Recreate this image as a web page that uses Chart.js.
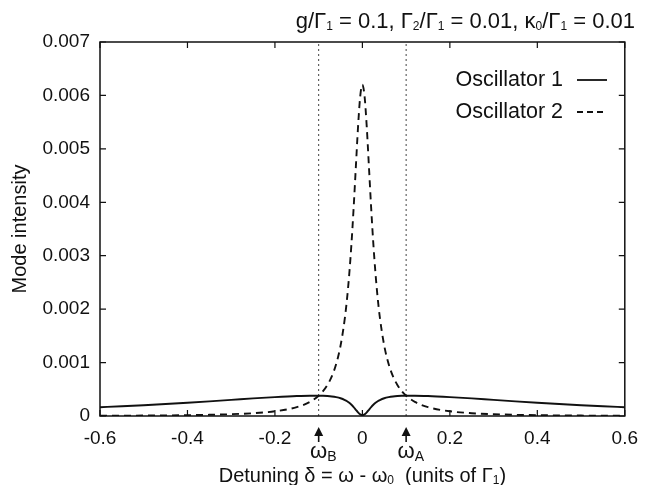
<!DOCTYPE html>
<html><head><meta charset="utf-8">
<script src="https://cdn.jsdelivr.net/npm/chart.js@4/dist/chart.umd.min.js"></script>
<style>html,body{margin:0;padding:0;background:#fff}#wrap{width:649px;height:485px}</style>
</head><body><div id="wrap"><canvas id="c" width="649" height="485"></canvas></div>
<script>
const detuning = [-0.6,-0.55,-0.5,-0.45,-0.4,-0.35,-0.3,-0.25,-0.2,-0.15,-0.12,-0.1,-0.09,-0.08,-0.07,-0.06,-0.05,-0.04,-0.035,-0.03,-0.025,-0.02,-0.015,-0.01,-0.005,0,
  0.005,0.01,0.015,0.02,0.025,0.03,0.035,0.04,0.05,0.06,0.07,0.08,0.09,0.1,0.12,0.15,0.2,0.25,0.3,0.35,0.4,0.45,0.5,0.55,0.6];
const oscillator1 = [0.000164,0.000182,0.000202,0.000224,0.000248,0.000274,0.000301,0.000329,0.000354,0.000374,0.000380,0.000380,0.000378,0.000373,0.000365,0.000352,0.000332,0.000299,0.000276,0.000246,0.000210,0.000166,0.000116,0.000068,0.000030,0.000016,
  0.000030,0.000068,0.000116,0.000166,0.000210,0.000246,0.000276,0.000299,0.000332,0.000352,0.000365,0.000373,0.000378,0.000380,0.000380,0.000374,0.000354,0.000329,0.000301,0.000274,0.000248,0.000224,0.000202,0.000182,0.000164];
const oscillator2 = [0.0000046,0.0000060,0.0000081,0.0000110,0.0000155,0.0000224,0.0000335,0.0000526,0.0000884,0.000166,0.000264,0.000379,0.000465,0.000581,0.000741,0.000972,0.001314,0.001839,0.002205,0.002662,0.003226,0.003901,0.004658,0.005406,0.005981,0.006202,
  0.005981,0.005406,0.004658,0.003901,0.003226,0.002662,0.002205,0.001839,0.001314,0.000972,0.000741,0.000581,0.000465,0.000379,0.000264,0.000166,0.0000884,0.0000526,0.0000335,0.0000224,0.0000155,0.0000110,0.0000081,0.0000060,0.0000046];
const xTicks = [-0.6,-0.4,-0.2,0,0.2,0.4,0.6];
const yTicks = [0,0.001,0.002,0.003,0.004,0.005,0.006,0.007];
const markerPositions = [-0.1, 0.1];
const markerNames = ['B','A'];
const seriesNames = ['Oscillator 1','Oscillator 2'];
const FONT = '"Liberation Sans", Arial, Helvetica, sans-serif';

function pts(xs, ys){ return xs.map((x,i)=>({x:x,y:ys[i]})); }

function drawRich(ctx, segs, x, y, align, size, subScale){
  const sc = subScale || 0.6;
  const widths = segs.map(s=>{ ctx.font = (s.sub? Math.round(size*sc): size)+'px '+FONT; return ctx.measureText(s.t).width; });
  const total = widths.reduce((a,b)=>a+b,0);
  let cx = align==='right' ? x-total : align==='center' ? x-total/2 : x;
  ctx.textAlign='left'; ctx.textBaseline='middle';
  segs.forEach((s,i)=>{
    ctx.font = (s.sub? Math.round(size*sc): size)+'px '+FONT;
    ctx.fillText(s.t, cx, y + (s.sub? size*0.22 : 0));
    cx += widths[i];
  });
}

const decor = {
  id:'decor',
  afterDraw(chart){
    const ctx = chart.ctx, a = chart.chartArea, xs = chart.scales.x, ys = chart.scales.y;
    ctx.save();
    ctx.strokeStyle='#111'; ctx.lineWidth=1.5;
    ctx.strokeRect(a.left, a.top, a.right-a.left, a.bottom-a.top);
    ctx.lineWidth=1.2;
    const tl=6;
    ctx.beginPath();
    xTicks.forEach(v=>{ const p=xs.getPixelForValue(v); ctx.moveTo(p,a.bottom); ctx.lineTo(p,a.bottom-tl); ctx.moveTo(p,a.top); ctx.lineTo(p,a.top+tl); });
    yTicks.forEach(v=>{ const p=ys.getPixelForValue(v); ctx.moveTo(a.left,p); ctx.lineTo(a.left+tl,p); ctx.moveTo(a.right,p); ctx.lineTo(a.right-tl,p); });
    ctx.stroke();
    ctx.fillStyle='#111';
    // title
    drawRich(ctx,[{t:'g/Γ'},{t:'1',sub:1},{t:' = 0.1, Γ'},{t:'2',sub:1},{t:'/Γ'},{t:'1',sub:1},{t:' = 0.01, κ'},{t:'0',sub:1},{t:'/Γ'},{t:'1',sub:1},{t:' = 0.01'}], 635, 22, 'right', 22, 0.56);
    // x title
    drawRich(ctx,[{t:'Detuning δ = ω - ω'},{t:'0',sub:1},{t:'  (units of Γ'},{t:'1',sub:1},{t:')'}], (a.left+a.right)/2, 476, 'center', 20, 0.6);
    // y title
    ctx.save(); ctx.translate(20,(a.top+a.bottom)/2); ctx.rotate(-Math.PI/2);
    ctx.font='20px '+FONT; ctx.textAlign='center'; ctx.textBaseline='middle'; ctx.fillText('Mode intensity',0,0);
    ctx.restore();
    // legend
    ctx.font='21.5px '+FONT; ctx.textAlign='right'; ctx.textBaseline='middle';
    const ly=[80,112];
    seriesNames.forEach((n,i)=>{
      ctx.fillText(n, 563, ly[i]);
      ctx.beginPath(); ctx.lineWidth=1.8; ctx.setLineDash(i===0?[]:[6,4]);
      ctx.moveTo(577, ly[i]); ctx.lineTo(607, ly[i]); ctx.stroke();
    });
    ctx.setLineDash([]);
    // markers
    markerPositions.forEach((v,i)=>{
      const p = xs.getPixelForValue(v);
      ctx.beginPath(); ctx.moveTo(p,427); ctx.lineTo(p-4.5,436); ctx.lineTo(p+4.5,436); ctx.closePath(); ctx.fill();
      ctx.beginPath(); ctx.lineWidth=1.6; ctx.moveTo(p,435); ctx.lineTo(p,442); ctx.stroke();
      ctx.font='22px '+FONT; const w = ctx.measureText('ω').width;
      drawRich(ctx,[{t:'ω'},{t:markerNames[i],sub:1}], p-w/2, 452, 'left', 22, 0.62);
    });
    ctx.restore();
  }
};

new Chart(document.getElementById('c'),{
  type:'line',
  data:{datasets:[
    {label:seriesNames[0], data:pts(detuning,oscillator1), borderColor:'#111', borderWidth:1.9, cubicInterpolationMode:'monotone', order:1},
    {label:seriesNames[1], data:pts(detuning,oscillator2), borderColor:'#111', borderWidth:1.9, borderDash:[7,5], cubicInterpolationMode:'monotone', order:2},
    {label:'ωB', data:[{x:markerPositions[0],y:0},{x:markerPositions[0],y:0.007}], borderColor:'#444', borderWidth:1, borderDash:[2,3], order:3},
    {label:'ωA', data:[{x:markerPositions[1],y:0},{x:markerPositions[1],y:0.007}], borderColor:'#444', borderWidth:1, borderDash:[2,3], order:3}
  ]},
  options:{
    responsive:false, animation:false,
    layout:{padding:{top:42,right:17,left:0,bottom:0}},
    elements:{point:{radius:0}},
    plugins:{legend:{display:false},tooltip:{enabled:false}},
    scales:{
      x:{type:'linear',min:-0.6,max:0.6,
        afterBuildTicks(s){ s.ticks = xTicks.map(v=>({value:v})); },
        afterFit(s){ s.height=69; },
        grid:{drawOnChartArea:false,drawTicks:false},
        border:{display:false},
        ticks:{padding:11,color:'#111',font:{family:FONT,size:19},callback:v=> v===0?'0':Number(v).toFixed(1)}},
      y:{type:'linear',min:0,max:0.007,
        afterBuildTicks(s){ s.ticks = yTicks.map(v=>({value:v})); },
        afterFit(s){ s.width=100; },
        grid:{drawOnChartArea:false,drawTicks:false},
        border:{display:false},
        ticks:{padding:10,color:'#111',font:{family:FONT,size:19},callback:v=> v===0?'0':Number(v).toFixed(3)}}
    }
  },
  plugins:[decor]
});
</script></body></html>
